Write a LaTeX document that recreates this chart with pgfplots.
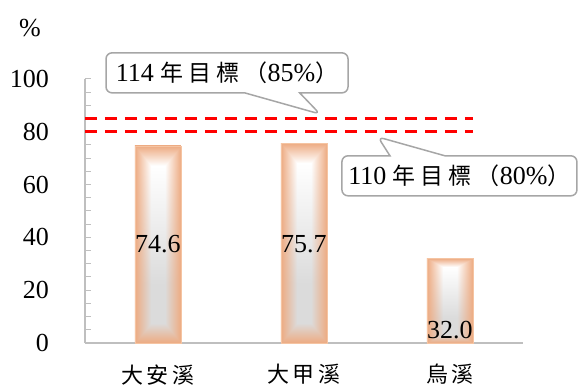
\documentclass[border=0pt]{standalone}
\usepackage{fontspec}
\setmainfont{Liberation Serif}
\newfontfamily\cjk[LetterSpace=15]{Noto Sans CJK TC}
\newfontfamily\cjkwide[LetterSpace=22]{Noto Sans CJK TC}
\usepackage{pgfplots}
\pgfplotsset{compat=1.18}
\usetikzlibrary{shapes.callouts}
\definecolor{axisgray}{HTML}{BFBFBF}
\definecolor{callgray}{HTML}{A6A6A6}
\definecolor{barline}{HTML}{F5C4A2}
\pgfdeclarefunctionalshading{barglow}{\pgfpoint{-50bp}{-50bp}}{\pgfpoint{50bp}{50bp}}{}{
 2 copy abs 25 exch sub 25 div 5 mul exch abs 25 exch sub 25 div 0.7 div
 2 copy gt {exch} if pop
 dup 1 gt {pop 1} if dup 0 lt {pop 0} if
 exch 10 add 30 div dup 1 gt {pop 1} if dup 0 lt {pop 0} if 0.14 mul 0.86 add
 3 -1 roll pop
 1 index 1 index 0.93 sub mul 0.93 add
 2 index 2 index 0.67 sub mul 0.67 add
 3 index 3 index 0.51 sub mul 0.51 add
 5 -2 roll pop pop
}
\newcommand{\serifbig}{\fontsize{26}{28}\selectfont}
\newcommand{\cjkbig}{\fontsize{23}{26}\selectfont\cjkwide}
\begin{document}
\begin{tikzpicture}
\begin{axis}[
  scale only axis, width=438pt, height=264pt,
  xmin=-0.5, xmax=2.5, ymin=0, ymax=100,
  clip=false,
  axis x line*=bottom, axis y line*=left,
  axis line style={draw=axisgray, line width=1.5pt},
  xtick={0,1,2}, xticklabels={大安溪,大甲溪,烏溪},
  xticklabel style={font=\fontsize{22}{24}\selectfont\cjk, yshift=-18pt},
  xtick style={draw=none},
  ytick={0,20,...,100}, minor y tick num=3,
  /pgf/number format/assume math mode=true,
  tick align=inside,
  ytick style={draw=axisgray, line width=1pt},
  minor tick style={draw=axisgray, line width=1pt},
  major tick length=6pt, minor tick length=6pt,
  yticklabel style={font=\serifbig, anchor=east, inner sep=0pt, xshift=-36pt},
]
\addplot[ybar, bar width=46pt, bar shift=0pt, shade, shading=barglow, draw=barline, line width=0.6pt]
  coordinates {(0,74.6)};
\addplot[ybar, bar width=46pt, bar shift=0pt, shade, shading=barglow, draw=barline, line width=0.6pt]
  coordinates {(1,75.7)};
\addplot[ybar, bar width=46pt, bar shift=0pt, shade, shading=barglow, draw=barline, line width=0.6pt]
  coordinates {(2,32.0)};
\addplot[red, line width=3pt, dash pattern=on 12pt off 8pt] coordinates {(-0.5,85) (2.16,85)};
\addplot[red, line width=3pt, dash pattern=on 12pt off 8pt] coordinates {(-0.5,80) (2.16,80)};
\node[font=\serifbig] at (axis cs:0,37.5) {74.6};
\node[font=\serifbig] at (axis cs:1,37.5) {75.7};
\node[font=\serifbig] at (axis cs:2,5) {32.0};
\node[font=\serifbig] at (axis cs:-0.877,119.3) {\%};
\node[rectangle callout, draw=callgray, line width=1.5pt, rounded corners=6pt, fill=white,
  minimum width=242pt, minimum height=40pt, inner sep=3pt, callout pointer width=55pt,
  font=\serifbig,
  callout absolute pointer={(axis cs:1.11,86.7)}] at (axis cs:0.473,102.3)
  {114 {\cjkbig 年目標（}85\%{\cjkbig ）}};
\node[rectangle callout, draw=callgray, line width=1.5pt, rounded corners=6pt, fill=white,
  minimum width=235pt, minimum height=40pt, inner sep=3pt, callout pointer width=55pt,
  font=\serifbig,
  callout absolute pointer={(axis cs:1.507,78)}] at (axis cs:2.065,63.3)
  {110 {\cjkbig 年目標（}80\%{\cjkbig ）}};
\path (axis cs:-1.082,129.9) rectangle (axis cs:2.884,-16.67);
\end{axis}
\end{tikzpicture}
\end{document}
